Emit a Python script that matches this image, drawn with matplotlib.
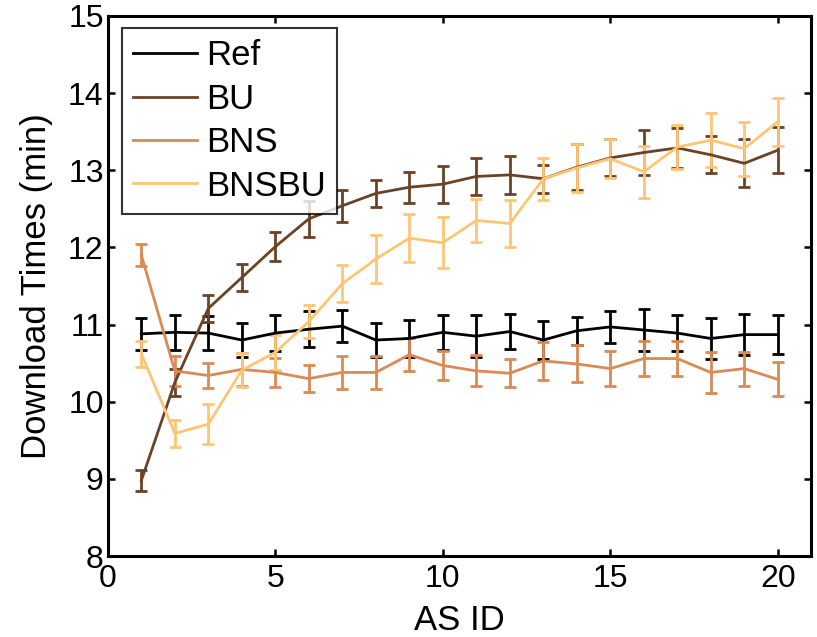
import numpy as np
import matplotlib.pyplot as plt

plt.rcParams['font.family'] = ['Liberation Sans', 'DejaVu Sans']

as_id = np.arange(1, 21)

ref_mean = [10.88, 10.90, 10.89, 10.80, 10.89, 10.94, 10.98, 10.80, 10.82, 10.90,
            10.85, 10.91, 10.80, 10.92, 10.97, 10.93, 10.89, 10.82, 10.87, 10.87]
ref_err = [0.21, 0.23, 0.22, 0.22, 0.23, 0.23, 0.21, 0.22, 0.24, 0.23,
           0.27, 0.23, 0.25, 0.18, 0.21, 0.27, 0.23, 0.26, 0.27, 0.25]

bu_mean = [8.98, 10.25, 11.21, 11.61, 12.01, 12.37, 12.54, 12.70, 12.78, 12.82,
           12.92, 12.94, 12.89, 13.04, 13.16, 13.23, 13.29, 13.20, 13.09, 13.26]
bu_err = [0.13, 0.18, 0.17, 0.17, 0.19, 0.23, 0.21, 0.17, 0.20, 0.24,
          0.24, 0.25, 0.18, 0.30, 0.24, 0.29, 0.26, 0.24, 0.31, 0.30]

bns_mean = [11.90, 10.40, 10.34, 10.42, 10.38, 10.30, 10.38, 10.38, 10.61, 10.47,
            10.40, 10.37, 10.53, 10.49, 10.43, 10.56, 10.56, 10.38, 10.43, 10.29]
bns_err = [0.14, 0.19, 0.16, 0.21, 0.19, 0.17, 0.21, 0.21, 0.21, 0.19,
           0.20, 0.18, 0.25, 0.24, 0.23, 0.23, 0.23, 0.26, 0.22, 0.22]

bnsbu_mean = [10.62, 9.59, 9.71, 10.41, 10.64, 11.04, 11.53, 11.85, 12.12, 12.06,
              12.35, 12.31, 12.89, 13.03, 13.15, 12.98, 13.30, 13.39, 13.28, 13.63]
bnsbu_err = [0.17, 0.18, 0.26, 0.22, 0.23, 0.21, 0.24, 0.31, 0.31, 0.33,
             0.28, 0.30, 0.27, 0.31, 0.25, 0.34, 0.29, 0.35, 0.35, 0.31]

labels = ['Ref', 'BU', 'BNS', 'BNSBU']
colors = ['#000000', '#6b4226', '#d98a55', '#fec574']

fig = plt.figure(figsize=(8.17, 6.37), dpi=100)
ax = fig.add_axes([0.132, 0.127, 0.861, 0.848])

series = [(ref_mean, ref_err), (bu_mean, bu_err), (bns_mean, bns_err), (bnsbu_mean, bnsbu_err)]
for (m, e), lab, c in zip(series, labels, colors):
    ax.errorbar(as_id, m, yerr=e, color=c, lw=2.0, elinewidth=2.0,
                capsize=4.5, capthick=2.0, label=lab)

ax.set_xlim(0, 21)
ax.set_ylim(8, 15)
ax.set_xticks([0, 5, 10, 15, 20])
ax.set_yticks(range(8, 16))
ax.tick_params(direction='in', length=5, width=1.8, top=True, right=True, labelsize=23)
ax.tick_params(axis='x', pad=6)
ax.tick_params(axis='y', pad=3)
for s in ax.spines.values():
    s.set_linewidth(2.2)

ax.set_xlabel('AS ID', fontsize=25, labelpad=7)
ax.set_ylabel('Download Times (min)', fontsize=25, labelpad=11)

handles = [plt.Line2D([], [], color=c, lw=2.0) for c in colors]
leg = ax.legend(handles, labels, loc='upper left', bbox_to_anchor=(0.0195, 0.978),
                fontsize=25, frameon=True, fancybox=False, edgecolor='black',
                handlelength=1.85, labelspacing=0.3, borderpad=0.33, handletextpad=0.25,
                borderaxespad=0)
leg.get_frame().set_linewidth(1.5)

fig.savefig('out.png', dpi=100)
